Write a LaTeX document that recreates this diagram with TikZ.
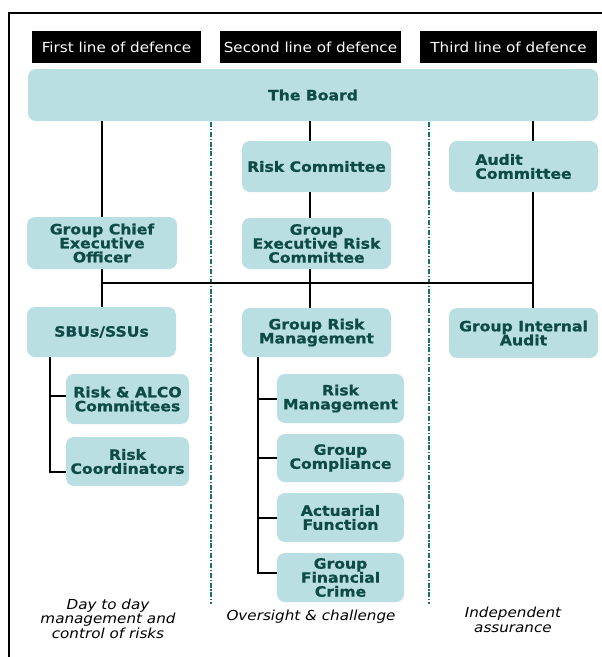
\documentclass[tikz,border=0pt]{standalone}
\usepackage{fontspec}
\setmainfont{DejaVu Sans}[FakeStretch=1.1, BoldFeatures={FakeStretch=1.1, FakeBold=0.8}]
\usetikzlibrary{calc}
\definecolor{boxfill}{HTML}{BADFE2}
\definecolor{ink}{HTML}{0D4A48}
\definecolor{sepc}{HTML}{117371}
\tikzset{
  box/.style={rounded corners=8pt, fill=boxfill, text=ink, font=\fontsize{14.2}{14}\selectfont\bfseries, align=center, inner sep=0pt},
  head/.style={fill=black, text=white, font=\fontsize{13.8}{14}\selectfont, inner sep=0pt, minimum height=32},
  conn/.style={draw=black, line width=2pt},
  sepline/.style={draw=sepc, line width=2.2pt, dash pattern=on 5pt off 1.8pt on 1.2pt off 1.8pt},
  foot/.style={font=\fontsize{13.8}{14.5}\selectfont\itshape, align=center, text=black},
}
\begin{document}
\begin{tikzpicture}[x=1pt,y=-1pt]
\useasboundingbox (0,0) rectangle (602,657);
\fill[white] (0,0) rectangle (602,657);
% frame
\draw[line width=1.8pt] (9,660) -- (9,13) -- (605,13);

% headers
\node[head, minimum width=169] (h1) at (116.5,47) {First line of defence};
\node[head, minimum width=181] (h2) at (310.5,47) {Second line of defence};
\node[head, minimum width=177] (h3) at (508.5,47) {Third line of defence};

% separators
\draw[sepline] (211,122) -- (211,604);
\draw[sepline] (429,122) -- (429,604);

% boxes
\node[box, minimum width=570, minimum height=52] (board) at (313,95) {The Board};
\node[box, minimum width=149, minimum height=51] (rc) at (316.5,166.5) {Risk Committee};
\node[box, minimum width=149, minimum height=51, align=left] (ac) at (523.5,166.5) {Audit\\Committee};
\node[box, minimum width=150, minimum height=52] (gceo) at (102,243) {Group Chief\\Executive\\Officer};
\node[box, minimum width=149, minimum height=51] (gerc) at (316.5,243.5) {Group\\Executive Risk\\Committee};
\node[box, minimum width=149, minimum height=50] (sbu) at (101.5,332) {SBUs/SSUs};
\node[box, minimum width=149, minimum height=49] (grm) at (316.5,332.5) {Group Risk\\Management};
\node[box, minimum width=149, minimum height=50] (gia) at (523.5,333) {Group Internal\\Audit};
\node[box, minimum width=123, minimum height=50] (ralco) at (127.5,399) {Risk \& ALCO\\Committees};
\node[box, minimum width=123, minimum height=49] (rcoord) at (127.5,461.5) {Risk\\Coordinators};
\node[box, minimum width=127, minimum height=49] (rm) at (340.5,398.5) {Risk\\Management};
\node[box, minimum width=127, minimum height=48] (gc) at (340.5,458) {Group\\Compliance};
\node[box, minimum width=127, minimum height=49] (af) at (340.5,517.5) {Actuarial\\Function};
\node[box, minimum width=127, minimum height=49] (gfc) at (340.5,577.5) {Group\\Financial\\Crime};

% connector guide coordinates
\coordinate (midx) at (310,0);
\coordinate (rightx) at (533,0);
\coordinate (hline) at (0,283);
\coordinate (lbx) at (50,0);
\coordinate (mbx) at (258,0);

% first line
\draw[conn] (board.south -| gceo.north) -- (gceo.north);
\draw[conn] (gceo.south) -- (gceo.south |- sbu.north);
% second line
\draw[conn] (board.south -| midx) -- (rc.north -| midx);
\draw[conn] (rc.south -| midx) -- (gerc.north -| midx);
\draw[conn] (gerc.south -| midx) -- (grm.north -| midx);
% third line
\draw[conn] (board.south -| rightx) -- (ac.north -| rightx);
\draw[conn] (ac.south -| rightx) -- (gia.north -| rightx);
% horizontal link
\draw[conn] (gceo.south |- hline) -- (rightx |- hline);

% SBU bracket
\draw[conn] (sbu.south -| lbx) |- ($(rcoord.west)+(0,10.5)$);
\draw[conn] ($(lbx |- ralco.west)+(0,-3)$) -- ($(ralco.west)+(0,-3)$);

% GRM bracket
\draw[conn] (grm.south -| mbx) |- ($(gfc.west)+(0,-4.5)$);
\draw[conn] (mbx |- rm.west) -- (rm.west);
\draw[conn] (mbx |- gc.west) -- (gc.west);
\draw[conn] (mbx |- af.west) -- (af.west);

% footers
\node[foot] (f1) at (108,618.5) {Day to day\\management and\\control of risks};
\node[foot] (f2) at (311,617) {Oversight \& challenge};
\node[foot] (f3) at (513,620) {Independent\\assurance};
\end{tikzpicture}
\end{document}
